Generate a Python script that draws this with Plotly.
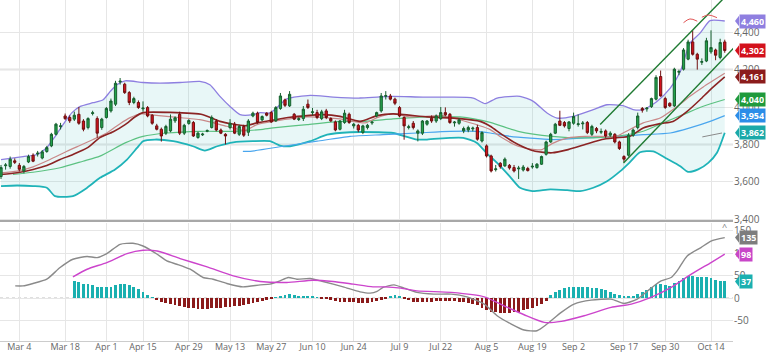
import plotly.graph_objects as go

# ---------------- data ----------------
tick_labels = ["Mar 4", "Mar 18", "Apr 1", "Apr 15", "Apr 29", "May 13", "May 27", "Jun 10",
               "Jun 24", "Jul 9", "Jul 22", "Aug 5", "Aug 19", "Sep 2", "Sep 17", "Sep 30", "Oct 14"]
tick_bars = [4, 14, 23, 31, 41, 50, 59, 68, 77, 87, 96, 106, 116, 125, 136, 145, 155]

open_ = [3628, 3686, 3682, 3712, 3688, 3658, 3706, 3742, 3749, 3727, 3762, 3792, 3854, 3895, 3952, 3944, 3935, 3961, 3925, 3890, 3965, 3938, 3890, 3944, 3979, 4015, 4134, 4122,
         4077, 4024, 4024, 3990, 3997, 3956, 3899, 3881, 3860, 3872, 3926, 3961, 3860, 3912, 3917, 3837, 3851, 3870, 3890, 3925, 3877, 3854, 3890, 3908, 3854, 3896,
         3865, 3952, 3967, 3931, 3967, 3970, 3926, 3992, 4038, 4006, 3961, 3933, 3938, 4015, 3970, 3970, 3938, 3979, 3938, 3920, 3881, 3917, 3961, 3899, 3902, 3864,
         3890, 3915, 3952, 3979, 4057, 4059, 4042, 3997, 3944, 3890, 3913, 3860, 3860, 3908, 3940, 3925, 3938, 3970, 3961, 3915, 3913, 3872, 3877, 3883, 3890, 3818, 3792, 3738,
         3665, 3699, 3685, 3688, 3676, 3669, 3663, 3671, 3679, 3676, 3694, 3747, 3813, 3860, 3925, 3917, 3885, 3913, 3906, 3910, 3917, 3854, 3885, 3865, 3872, 3849, 3854,
         3813, 3735, 3742, 3849, 3890, 3992, 3990, 4002, 4042, 4163, 4045, 4020, 4006, 4186, 4202, 4256, 4348, 4282, 4239, 4246, 4295, 4305, 4265, 4348]
high = [3690, 3700, 3735, 3725, 3700, 3690, 3745, 3752, 3765, 3770, 3792, 3862, 3915, 3915, 3965, 3955, 3975, 4000, 3935, 3945, 3980, 3950, 3942, 4000, 4045, 4140, 4155, 4130,
        4085, 4055, 4035, 4030, 4005, 3962, 3910, 3890, 3905, 3960, 3950, 3975, 3910, 3935, 3925, 3868, 3862, 3880, 3955, 3935, 3885, 3860, 3935, 3920, 3905, 3905,
        3935, 3975, 3975, 3955, 3972, 3980, 4005, 4075, 4045, 4085, 3968, 3945, 4005, 4040, 3995, 3985, 3985, 3990, 3945, 3928, 3930, 3985, 3970, 3915, 3910, 3905,
        3910, 3925, 3975, 4075, 4085, 4070, 4050, 4005, 3950, 3905, 3925, 3880, 3930, 3930, 3955, 3960, 4000, 3998, 3968, 3925, 3940, 3895, 3900, 3895, 3905, 3870, 3800, 3745,
        3690, 3705, 3730, 3695, 3690, 3685, 3690, 3680, 3700, 3700, 3740, 3820, 3862, 3915, 3980, 3925, 3925, 3970, 3960, 3925, 3925, 3905, 3893, 3885, 3880, 3870, 3860,
        3820, 3742, 3860, 3885, 3970, 4000, 4000, 4050, 4170, 4195, 4055, 4025, 4210, 4200, 4315, 4360, 4410, 4290, 4260, 4370, 4410, 4312, 4365, 4360]
low = [3615, 3665, 3670, 3695, 3655, 3645, 3700, 3705, 3735, 3720, 3755, 3785, 3848, 3880, 3930, 3915, 3925, 3905, 3870, 3880, 3955, 3835, 3878, 3938, 3970, 4005, 4120, 4070,
       4010, 4015, 3990, 3975, 3945, 3905, 3875, 3815, 3850, 3865, 3915, 3850, 3850, 3905, 3840, 3830, 3845, 3865, 3885, 3870, 3855, 3800, 3880, 3855, 3845, 3840,
       3845, 3945, 3910, 3925, 3950, 3915, 3920, 3985, 4000, 4000, 3930, 3925, 3925, 3990, 3955, 3935, 3930, 3935, 3920, 3870, 3875, 3910, 3910, 3885, 3865, 3855,
       3880, 3905, 3945, 3970, 4040, 4035, 4010, 3945, 3825, 3880, 3880, 3816, 3850, 3900, 3915, 3915, 3930, 3950, 3910, 3895, 3905, 3860, 3865, 3870, 3820, 3810, 3730, 3650,
       3655, 3670, 3680, 3665, 3650, 3615, 3655, 3655, 3670, 3670, 3690, 3740, 3808, 3855, 3898, 3890, 3870, 3905, 3895, 3880, 3855, 3845, 3860, 3855, 3835, 3840, 3805,
       3770, 3705, 3735, 3840, 3880, 3970, 3975, 3995, 4035, 4055, 3990, 4000, 4000, 4170, 4195, 4250, 4275, 4200, 4225, 4240, 4285, 4250, 4255, 4290]
close_ = [3676, 3690, 3721, 3704, 3667, 3682, 3735, 3710, 3753, 3760, 3783, 3854, 3908, 3899, 3938, 3926, 3956, 3913, 3881, 3938, 3969, 3860, 3935, 3992, 4032, 4127, 4138, 4077,
          4024, 4045, 3997, 3994, 3952, 3913, 3881, 3845, 3896, 3935, 3942, 3860, 3902, 3928, 3845, 3860, 3855, 3874, 3944, 3877, 3860, 3845, 3913, 3860, 3896, 3849,
          3925, 3967, 3917, 3949, 3956, 3920, 3997, 4059, 4009, 4068, 3935, 3937, 3988, 3997, 3974, 3944, 3974, 3944, 3926, 3877, 3925, 3967, 3917, 3908, 3877, 3899,
          3902, 3919, 3970, 4059, 4061, 4042, 4020, 3952, 3899, 3894, 3890, 3872, 3925, 3925, 3925, 3952, 3970, 3958, 3917, 3919, 3931, 3885, 3890, 3887, 3828, 3863, 3738, 3658,
          3669, 3681, 3721, 3674, 3658, 3673, 3679, 3660, 3683, 3694, 3735, 3813, 3854, 3908, 3902, 3899, 3920, 3949, 3910, 3914, 3863, 3896, 3872, 3869, 3845, 3860, 3813,
          3778, 3721, 3849, 3877, 3952, 3983, 3994, 4045, 4158, 4059, 3997, 4006, 4202, 4190, 4305, 4348, 4282, 4256, 4243, 4354, 4318, 4277, 4345, 4302]

# Bollinger bands (read at bar positions)
bb_upper_x = [0, 4.8, 7.9, 10.0, 11.8, 14.0, 15.5, 17.2, 20.1, 22.3, 23.8, 25.3, 27.1, 31.0, 34.7, 39.1, 43.4, 45.6, 47.8, 50.0,
              52.2, 55.0, 56.6, 58.7, 60.5, 62.4, 67.5, 72.5, 78.4, 82.1, 85.6, 92.1, 98.0, 103.1, 105.7, 108.3, 113.3, 116.2, 119.2, 121.4,
              124.9, 129.3, 132.3, 135.8, 138.0, 140.2, 143.2, 146.1, 148.3, 150.4, 152.6, 154.8, 158]
bb_upper_y = [3719, 3735, 3746, 3783, 3842, 3922, 3970, 4002, 4023, 4039, 4082, 4119, 4140, 4131, 4128, 4131, 4137, 4119, 4057, 4003,
              3959, 3959, 3970, 3968, 4003, 4043, 4062, 4053, 4048, 4053, 4057, 4053, 4053, 4048, 4018, 4048, 4057, 4030, 3968, 3941,
              3950, 3986, 4012, 4007, 3986, 3986, 4030, 4101, 4190, 4341, 4395, 4462, 4460]
bb_lower_x = [0, 3.5, 7.0, 10.0, 11.8, 15.7, 18.8, 21.6, 24.9, 27.5, 29.7, 31.0, 33.6, 37.6, 41.9, 44.5, 47.2, 50.7, 55.0, 58.7,
              60.9, 63.1, 67.5, 71.2, 76.2, 82.1, 85.6, 90.8, 93.0, 98.0, 100.9, 103.9, 106.1, 108.3, 111.1, 113.3, 116.0, 119.9, 123.6, 126.4,
              129.3, 132.3, 135.2, 137.3, 139.5, 142.4, 145.4, 148.3, 150.0, 152.2, 154.4, 156.3, 158]
bb_lower_y = [3577, 3580, 3577, 3568, 3523, 3523, 3568, 3621, 3666, 3719, 3781, 3817, 3826, 3817, 3790, 3767, 3790, 3811, 3817, 3817,
              3794, 3790, 3817, 3852, 3865, 3865, 3861, 3826, 3826, 3835, 3835, 3808, 3751, 3701, 3628, 3568, 3550, 3559, 3555, 3550,
              3568, 3603, 3657, 3705, 3758, 3763, 3723, 3683, 3653, 3666, 3701, 3755, 3862]

# moving averages
ma_dark_x = [0, 3.5, 7.0, 10.0, 12.9, 15.7, 18.8, 21.6, 24.5, 27.1, 29.3, 31.0, 36.9, 44.1, 47.8, 53.3, 55.9, 59.4, 63.1, 66.8,
             70.3, 74.0, 78.4, 82.1, 85.6, 93.0, 100.2, 104.6, 106.8, 109.4, 112.9, 116.6, 120.3, 123.8, 127.5, 131.2, 134.1, 137.3, 140.2, 143.9,
             146.7, 149.8, 152.6, 154.8, 158]
ma_dark_y = [3639, 3648, 3666, 3687, 3719, 3746, 3781, 3836, 3868, 3906, 3948, 3970, 3971, 3959, 3923, 3900, 3915, 3930, 3945, 3954,
             3959, 3950, 3923, 3954, 3963, 3947, 3938, 3923, 3897, 3852, 3799, 3763, 3755, 3772, 3799, 3826, 3835, 3843, 3888, 3911,
             3923, 3977, 4039, 4092, 4161]
ma_pink_x = [0, 3.5, 7.0, 10.7, 14.4, 17.2, 20.1, 23.1, 26.0, 28.2, 30.3, 32.5, 36.2, 43.4, 49.3, 53.3, 55.9, 59.4, 66.8, 74.0,
             79.5, 82.1, 85.6, 89.3, 96.5, 100.2, 106.8, 109.4, 112.9, 116.6, 118.1, 120.3, 123.8, 127.5, 131.2, 134.1, 135.8, 140.2, 143.9, 147.6,
             150.4, 153.3, 158]
ma_pink_y = [3648, 3657, 3680, 3719, 3763, 3794, 3826, 3861, 3911, 3943, 3964, 3959, 3950, 3932, 3897, 3875, 3906, 3923, 3947, 3936,
             3915, 3943, 3964, 3947, 3954, 3932, 3879, 3835, 3790, 3772, 3772, 3804, 3835, 3843, 3843, 3840, 3861, 3915, 3941, 4003,
             4057, 4107, 4180]
ma_green_x = [2.6, 7.0, 12.9, 17.9, 21.6, 27.1, 31.0, 36.2, 43.4, 50.7, 56.6, 59.4, 66.8, 74.0, 79.5, 85.6, 93.0, 100.2, 106.8, 112.9,
              120.3, 127.5, 134.1, 140.2, 144.5, 148.9, 153.3, 158]
ma_green_y = [3639, 3651, 3675, 3710, 3737, 3808, 3843, 3861, 3870, 3870, 3879, 3888, 3906, 3923, 3923, 3936, 3947, 3947, 3918, 3870,
              3843, 3835, 3843, 3870, 3915, 3959, 4004, 4040]
ma_blue_x = [52.8, 54.4, 61.6, 69.0, 76.2, 83.4, 90.8, 98.0, 103.9, 106.8, 111.1, 120.3, 127.5, 134.1, 140.2, 146.1, 150.4, 154.8, 158]
ma_blue_y = [3763, 3763, 3790, 3817, 3843, 3852, 3861, 3870, 3870, 3861, 3843, 3826, 3835, 3843, 3852, 3861, 3888, 3923, 3954]

# drawings
channel_up_x = [130.8, 160.0]
channel_up_y = [3906, 4637]
channel_low_x = [135.9, 160.3]
channel_low_y = [3701, 4324]
arc1_x = [149.0, 150.4, 152.0]
arc1_y = [4451, 4471, 4459]
arc2_x = [153.0, 154.4, 156.3]
arc2_y = [4480, 4492, 4478]
gray_seg_x = [153.1, 157.4]
gray_seg_y = [3840, 3861]

# MACD
macd_x = [3.1, 4.8, 7.0, 10.0, 12.9, 15.7, 18.8, 21.0, 23.1, 26.0, 28.8, 31.0, 34.1, 36.2, 38.4, 41.3, 44.1, 46.3, 49.3, 52.8,
          56.6, 58.7, 60.9, 62.7, 64.6, 67.5, 70.3, 74.7, 78.4, 80.6, 82.1, 83.4, 85.8, 88.0, 90.8, 94.5, 98.3, 101.7, 105.5, 108.3,
          111.4, 114.2, 117.0, 119.2, 122.3, 125.1, 128.8, 133.2, 136.0, 138.9, 141.9, 144.1, 146.3, 147.6, 149.8, 152.8, 155.0, 158]
macd_y = [27.3, 27.3, 32.7, 42.2, 68.2, 86.7, 92.7, 90.4, 99.3, 120, 122.2, 116.2, 97.8, 82.9, 75.5, 64.4, 46, 42.2, 32.7, 25.1,
          29.6, 31.1, 38.4, 46, 42.2, 43.8, 37.1, 25.1, 14, 11.1, 14.9, 23.8, 29.6, 22.2, 12.7, 8.9, 8.9, 2.9, -13.3, -39.3,
          -57.8, -71.1, -72.7, -57.8, -31.8, -13.3, -4.4, -2.2, -11.8, -2.2, 22.2, 38.4, 46, 60.7, 94, 112.7, 127.3, 135]
sig_x = [15.7, 18.8, 23.1, 27.5, 31.0, 34.1, 39.1, 45.0, 50.7, 56.6, 62.4, 68.1, 72.5, 76.9, 81.2, 83.6, 87.3, 90.8, 98.3, 105.5,
         109.8, 114.2, 118.6, 122.3, 127.3, 133.2, 137.6, 141.9, 146.3, 150.7, 155.0, 158]
sig_y = [47.3, 64.4, 79.3, 99.3, 106.7, 105.1, 88.2, 69.6, 49.6, 37.1, 34.9, 40, 37.1, 31.1, 25.1, 25.1, 22.2, 16.2, 12.7, 2.9,
         -17.1, -37.1, -54, -51.8, -39.3, -20.7, -13.3, 1.6, 23.8, 53.3, 79.3, 98]
hist = [37, 34.8, 31, 29.6, 28.9, 23.7, 23, 23.7, 25, 28.9, 31, 30.4, 27.4, 23.7, 20, 12.6, 5.2,
        1.5,
        -5.9, -9.6, -11.9, -14.8, -17, -19.3, -20.7, -22.2, -23.7, -24.4, -25.2, -24.4, -23.7, -23, -22.2, -20.7, -20.7, -19.3, -17.8, -16.3, -13.3, -11.1, -9.6, -7.4, -4.4, -1.5,
        1.5, 3, 6, 8.9, 6.7, 4.4, 3.7, 3, 2.2, 1.5,
        -0.7, -2.2, -4.4, -7.4, -8.9, -8.9, -9.6, -10.4, -11.1, -11.9, -11.1, -9.6, -7.4, -4.4,
        -2, 3.7, 5.9, 3.7, -3.7, -5.9, -8.9, -9.6, -9.6, -8.9, -8.9, -7.4, -6.7, -7.4, -7.4, -8.1, -8.9, -10.4, -11.9, -13.3,
        -16.3, -22.2, -28.1, -31.1, -32.6, -33.3, -34, -34, -32.6, -31.1, -28.1, -25.2, -22.2, -18.5, -13.3, -7.4, 5.9, 12.6, 17, 20.7,
        23, 24.4, 24.6, 24.4, 23.7, 22.2, 20.7, 18.5, 16.3, 12.6, 8.9, 5.2, 2.2, 2.2, 3.7, 8.9, 13.3, 17, 23.7, 31.1, 29.6,
        28.1, 25.9, 33.3, 38.5, 44.4, 49.6, 49.6, 46.7, 45.9, 46.7, 44.4, 40.7, 38.5, 37]

price_tags = [(4460, "4,460", "#8f7fe0"), (4302, "4,302", "#d3111c"), (4161, "4,161", "#8b1c1c"),
              (4040, "4,040", "#1f9a3c"), (3954, "3,954", "#2b8de8"), (3862, "3,862", "#1aa9a9")]
macd_tags = [(135, "135", "#7d7d7d"), (98, "98", "#c846c8"), (37, "37", "#1ab0b0")]

# ---------------- figure ----------------
N = len(close_)
bars = list(range(N))
hist_x = list(range(N - len(hist), N))

Y1 = [3393.7, 4572.3]
Y2 = [-95.6, 166.7]
PLOT_W = 733
FONT = "Open Sans"
GRID = "#e6e6e6"

fig = go.Figure()

# band fill
fig.add_trace(go.Scatter(x=bb_upper_x + bb_lower_x[::-1], y=bb_upper_y + bb_lower_y[::-1],
                         fill="toself", fillcolor="rgba(80,190,190,0.13)", line=dict(width=0),
                         mode="lines", hoverinfo="skip", xaxis="x", yaxis="y"))
def line(xs, ys, color, width, axis="y", xa="x"):
    fig.add_trace(go.Scatter(x=xs, y=ys, mode="lines", line=dict(color=color, width=width, shape="spline", smoothing=0.6),
                             hoverinfo="skip", xaxis=xa, yaxis=axis))

line(bb_upper_x, bb_upper_y, "#8d7fe0", 1.3)
line(bb_lower_x, bb_lower_y, "#1fb3b8", 1.8)
line(ma_blue_x, ma_blue_y, "#4aa6ee", 1.2)
line(ma_green_x, ma_green_y, "#5cc282", 1.2)
line(ma_pink_x, ma_pink_y, "#c98888", 1.2)
line(ma_dark_x, ma_dark_y, "#8b2424", 1.6)

# candles on an overlaying axis so they sit above the indicator lines
fig.add_trace(go.Candlestick(x=bars, open=open_, high=high, low=low, close=close_,
                             increasing=dict(line=dict(color="#17602f", width=1), fillcolor="#22a34b"),
                             decreasing=dict(line=dict(color="#701010", width=1), fillcolor="#d3111c"),
                             whiskerwidth=0, hoverinfo="skip", xaxis="x", yaxis="y3"))

# drawings
for xs, ys, c, w in [(channel_up_x, channel_up_y, "#1f7a32", 1.4), (channel_low_x, channel_low_y, "#1f7a32", 1.4),
                     (arc1_x, arc1_y, "#e05555", 1), (arc2_x, arc2_y, "#e05555", 1),
                     (gray_seg_x, gray_seg_y, "#8a8a8a", 1)]:
    fig.add_trace(go.Scatter(x=xs, y=ys, mode="lines", line=dict(color=c, width=w, shape="spline"),
                             hoverinfo="skip", xaxis="x", yaxis="y3"))

# MACD panel
fig.add_trace(go.Bar(x=hist_x, y=hist, width=0.62,
                     marker=dict(color=["#1ab0b0" if v >= 0 else "#8b1a1a" for v in hist], line=dict(width=0)),
                     hoverinfo="skip", xaxis="x2", yaxis="y2"))
line(macd_x, macd_y, "#8a8a8a", 1.4, axis="y2", xa="x2")
line(sig_x, sig_y, "#cc44cc", 1.4, axis="y2", xa="x2")

fig.add_shape(type="line", xref="paper", x0=0, x1=1, yref="y2", y0=0, y1=0,
              line=dict(color="#aaaaaa", width=1, dash="dot"), layer="below")
for v in [3800, 4200]:
    fig.add_shape(type="line", xref="paper", x0=0, x1=1, yref="y", y0=v, y1=v,
                  line=dict(color="#e4e4e4", width=2), layer="below")

def add_tag(value, text, color, yref, yr, dom_px):
    upp = (yr[1] - yr[0]) / dom_px
    h = 5.2 * upp
    x0 = 1 + 2 / PLOT_W
    x1 = 1 + 6 / PLOT_W
    fig.add_shape(type="path", xref="paper", yref=yref,
                  path=f"M {x0},{value} L {x1},{value + h} L {x1},{value - h} Z",
                  fillcolor=color, line=dict(width=0), layer="above")
    fig.add_annotation(xref="paper", x=x1, xanchor="left", yref=yref, y=value, yanchor="middle",
                       text=f"<b>{text}</b>", showarrow=False, bgcolor=color, borderpad=1, height=11,
                       font=dict(family=FONT, size=9, color="white"))

for v, t, c in price_tags:
    add_tag(v, t, c, "y", Y1, 221)
for v, t, c in macd_tags:
    add_tag(v, t, c, "y2", Y2, 118)

fig.add_annotation(xref="x2", x=158, yref="y2", y=160, text="^", showarrow=False,
                   font=dict(family=FONT, size=9, color="#777"))

axis_font = dict(family=FONT, size=10, color="#666666")
x_font = dict(family=FONT, size=9, color="#666666")
fig.update_layout(
    width=768, height=354,
    margin=dict(l=0, r=768 - PLOT_W, t=0, b=13, autoexpand=False),
    paper_bgcolor="white", plot_bgcolor="white",
    showlegend=False, bargap=0,
    xaxis=dict(domain=[0, 1], range=[-0.22, 159.8], anchor="y", tickvals=tick_bars, showticklabels=False,
               showgrid=True, gridcolor=GRID, zeroline=False, showline=True, linecolor="#a8a8a8", linewidth=1.5,
               rangeslider=dict(visible=False), ticks="", automargin=False),
    yaxis=dict(domain=[0.3538, 1], range=Y1, side="right", tickvals=[3400, 3600, 3800, 4000, 4200, 4400],
               tickformat=",d", tickfont=axis_font, showgrid=True, gridcolor=GRID, zeroline=False, ticks="",
               automargin=False),
    yaxis3=dict(overlaying="y", range=Y1, visible=False, showgrid=False, zeroline=False, automargin=False),
    xaxis2=dict(domain=[0, 1], anchor="y2", matches="x", tickvals=tick_bars, ticktext=tick_labels,
                tickfont=x_font, showgrid=True, gridcolor=GRID, zeroline=False, showline=True,
                linecolor="#cccccc", ticks="", automargin=False, ticklabelstandoff=-3),
    yaxis2=dict(domain=[0, 0.345], range=Y2, side="right", tickvals=[-50, 0, 50, 100, 150],
                ticktext=["-50", "0", "50", "100", "150"], tickfont=axis_font, showgrid=True,
                gridcolor=GRID, zeroline=False, ticks="", automargin=False),
    font=dict(family=FONT),
)

fig.write_html("out.html", config={"displayModeBar": False})
